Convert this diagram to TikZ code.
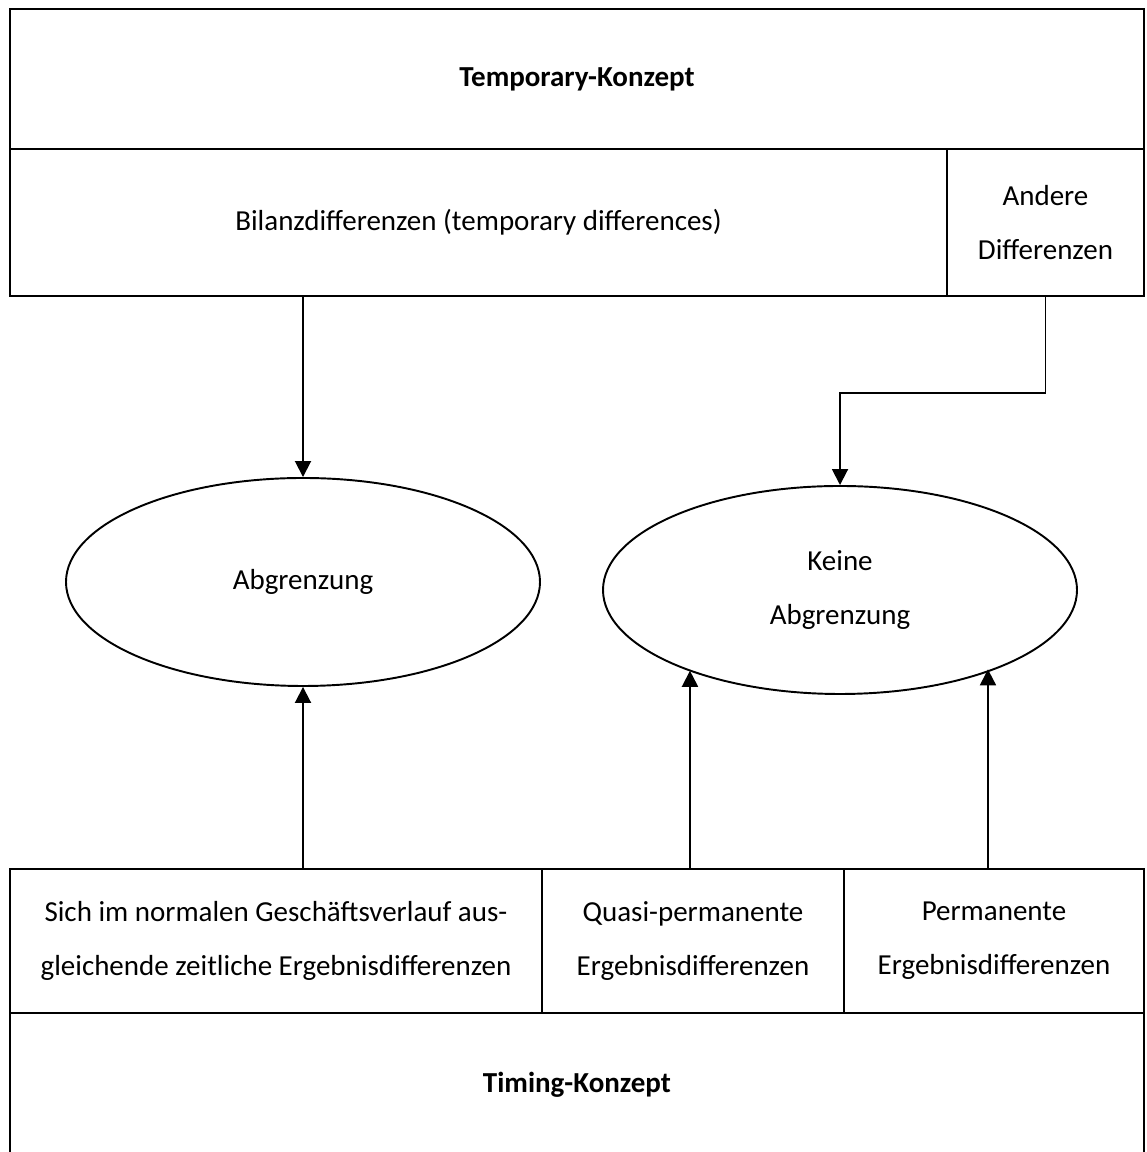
\documentclass[tikz,border=0pt]{standalone}
\usepackage{fontspec}
\setmainfont{Carlito}
\usepackage{tikz}
\usetikzlibrary{arrows.meta}
\usetikzlibrary{shapes.geometric}

\tikzset{
  feld/.style={draw, line width=1.1pt, rectangle, inner sep=0pt, anchor=north west,
    align=center, font=\fontsize{16.5}{30.7}\selectfont},
  oval/.style={draw, line width=1.1pt, ellipse, minimum width=9.48cm, minimum height=4.16cm,
    inner sep=0pt, align=center, font=\fontsize{16.5}{30.7}\selectfont},
  pfeil/.style={line width=1.1pt, -{Triangle[length=0.32cm,width=0.32cm]}}
}

\begin{document}
\begin{tikzpicture}
        \useasboundingbox (0,0) rectangle (22.92,23.04);
        % oben
        \node[feld, minimum width=22.68cm, minimum height=2.8cm] (temporary) at (0.18,22.88) {\textbf{Temporary-Konzept}};
        \node[feld, minimum width=18.74cm, minimum height=2.94cm] (bilanz) at (0.18,20.08) {Bilanzdifferenzen (temporary differences)};
        \node[feld, minimum width=3.94cm, minimum height=2.94cm] (andere) at (18.92,20.08) {Andere\\Differenzen};
        % mitte
        \node[oval] (abgr) at (6.06,11.4) {Abgrenzung};
        \node[oval] (kein) at (16.8,11.24) {Keine\\Abgrenzung};
        % unten
        \node[feld, minimum width=10.64cm, minimum height=2.88cm] (sich) at (0.18,5.68) {Sich im normalen Geschäftsverlauf aus-\\gleichende zeitliche Ergebnisdifferenzen};
        \node[feld, minimum width=6.04cm, minimum height=2.88cm] (quasi) at (10.82,5.68) {Quasi-permanente\\Ergebnisdifferenzen};
        \node[feld, minimum width=6cm, minimum height=2.88cm] (perm) at (16.86,5.68) {Permanente\\Ergebnisdifferenzen};
        \node[feld, minimum width=22.68cm, minimum height=2.88cm] (timing) at (0.18,2.8) {\textbf{Timing-Konzept}};
        % pfeile
        \draw[pfeil] (abgr.north |- bilanz.south) -- (abgr.north);
        \draw[pfeil] (andere.south) -- ++(0,-1.92) -| (kein.north);
        \draw[pfeil] (abgr.south |- sich.north) -- (abgr.south);
        \draw[pfeil] ([xshift=-0.06cm]quasi.north) -- ([xshift=-0.06cm]quasi.north |- kein.208);
        \draw[pfeil] ([xshift=-0.12cm]perm.north) -- ([xshift=-0.12cm]perm.north |- kein.333);
     \end{tikzpicture}
\end{document}
